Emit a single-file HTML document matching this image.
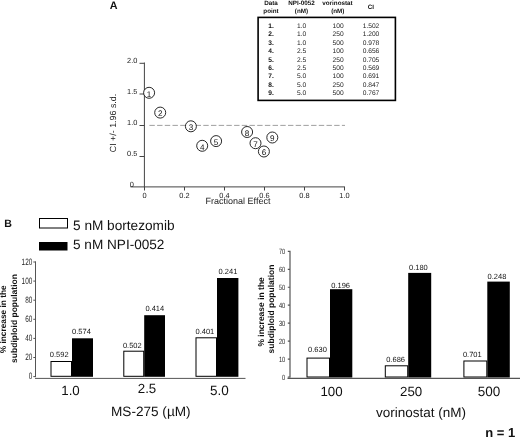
<!DOCTYPE html>
<html><head><meta charset="utf-8"><title>Figure</title>
<style>
html,body{margin:0;padding:0;background:#fff;}
svg{display:block;font-family:"Liberation Sans",sans-serif;filter:blur(0.35px);text-rendering:geometricPrecision;}
</style></head>
<body>
<svg width="520" height="438" viewBox="0 0 520 438">
<rect x="0" y="0" width="520" height="438" fill="#fff"/>
<text x="109.7" y="8.8" font-size="10.8" text-anchor="start" font-weight="bold" fill="#111">A</text>
<text x="271" y="5.2" font-size="6.3" text-anchor="middle" font-weight="bold" fill="#111">Data</text>
<text x="271" y="13" font-size="6.3" text-anchor="middle" font-weight="bold" fill="#111">point</text>
<text x="301.5" y="5.2" font-size="6.3" text-anchor="middle" font-weight="bold" fill="#111">NPI-0052</text>
<text x="301.5" y="13" font-size="6.3" text-anchor="middle" font-weight="bold" fill="#111">(nM)</text>
<text x="337.5" y="5.2" font-size="6.3" text-anchor="middle" font-weight="bold" fill="#111">vorinostat</text>
<text x="337.8" y="13" font-size="6.3" text-anchor="middle" font-weight="bold" fill="#111">(nM)</text>
<text x="370.8" y="9.1" font-size="6.3" text-anchor="middle" font-weight="bold" fill="#111">CI</text>
<rect x="258.1" y="17.4" width="137.3" height="83" fill="#fff" stroke="#000" stroke-width="1.6"/>
<text x="271" y="27.7" font-size="6.65" text-anchor="middle" font-weight="bold" fill="#111">1.</text>
<text x="301.5" y="27.7" font-size="6.65" text-anchor="middle" fill="#222">1.0</text>
<text x="338.1" y="27.7" font-size="6.65" text-anchor="middle" fill="#222">100</text>
<text x="371" y="27.7" font-size="6.65" text-anchor="middle" fill="#222">1.502</text>
<text x="271" y="36.16" font-size="6.65" text-anchor="middle" font-weight="bold" fill="#111">2.</text>
<text x="301.5" y="36.16" font-size="6.65" text-anchor="middle" fill="#222">1.0</text>
<text x="338.1" y="36.16" font-size="6.65" text-anchor="middle" fill="#222">250</text>
<text x="371" y="36.16" font-size="6.65" text-anchor="middle" fill="#222">1.200</text>
<text x="271" y="44.62" font-size="6.65" text-anchor="middle" font-weight="bold" fill="#111">3.</text>
<text x="301.5" y="44.62" font-size="6.65" text-anchor="middle" fill="#222">1.0</text>
<text x="338.1" y="44.62" font-size="6.65" text-anchor="middle" fill="#222">500</text>
<text x="371" y="44.62" font-size="6.65" text-anchor="middle" fill="#222">0.978</text>
<text x="271" y="53.08" font-size="6.65" text-anchor="middle" font-weight="bold" fill="#111">4.</text>
<text x="301.5" y="53.08" font-size="6.65" text-anchor="middle" fill="#222">2.5</text>
<text x="338.1" y="53.08" font-size="6.65" text-anchor="middle" fill="#222">100</text>
<text x="371" y="53.08" font-size="6.65" text-anchor="middle" fill="#222">0.656</text>
<text x="271" y="61.54" font-size="6.65" text-anchor="middle" font-weight="bold" fill="#111">5.</text>
<text x="301.5" y="61.54" font-size="6.65" text-anchor="middle" fill="#222">2.5</text>
<text x="338.1" y="61.54" font-size="6.65" text-anchor="middle" fill="#222">250</text>
<text x="371" y="61.54" font-size="6.65" text-anchor="middle" fill="#222">0.705</text>
<text x="271" y="70.0" font-size="6.65" text-anchor="middle" font-weight="bold" fill="#111">6.</text>
<text x="301.5" y="70.0" font-size="6.65" text-anchor="middle" fill="#222">2.5</text>
<text x="338.1" y="70.0" font-size="6.65" text-anchor="middle" fill="#222">500</text>
<text x="371" y="70.0" font-size="6.65" text-anchor="middle" fill="#222">0.569</text>
<text x="271" y="78.46" font-size="6.65" text-anchor="middle" font-weight="bold" fill="#111">7.</text>
<text x="301.5" y="78.46" font-size="6.65" text-anchor="middle" fill="#222">5.0</text>
<text x="338.1" y="78.46" font-size="6.65" text-anchor="middle" fill="#222">100</text>
<text x="371" y="78.46" font-size="6.65" text-anchor="middle" fill="#222">0.691</text>
<text x="271" y="86.92" font-size="6.65" text-anchor="middle" font-weight="bold" fill="#111">8.</text>
<text x="301.5" y="86.92" font-size="6.65" text-anchor="middle" fill="#222">5.0</text>
<text x="338.1" y="86.92" font-size="6.65" text-anchor="middle" fill="#222">250</text>
<text x="371" y="86.92" font-size="6.65" text-anchor="middle" fill="#222">0.847</text>
<text x="271" y="95.38000000000001" font-size="6.65" text-anchor="middle" font-weight="bold" fill="#111">9.</text>
<text x="301.5" y="95.38000000000001" font-size="6.65" text-anchor="middle" fill="#222">5.0</text>
<text x="338.1" y="95.38000000000001" font-size="6.65" text-anchor="middle" fill="#222">500</text>
<text x="371" y="95.38000000000001" font-size="6.65" text-anchor="middle" fill="#222">0.767</text>
<path d="M144.4 62.5V187.4M130.5 186.9H345M139.5 63.3H144.4M139.5 94H144.4M139.5 125.5H144.4M139.5 156.5H144.4M144.5 187V190.5M184.5 187V190.5M224.5 187V190.5M264.5 187V190.5M304.5 187V190.5M344.5 187V190.5" stroke="#444" stroke-width="1" fill="none"/>
<path d="M149.4 125.4H345" stroke="#888" stroke-width="0.8" stroke-dasharray="5.4 2.3" fill="none"/>
<text x="137.3" y="63.2" font-size="7.4" text-anchor="end" fill="#222">2.0</text>
<text x="137.3" y="93.7" font-size="7.4" text-anchor="end" fill="#222">1.5</text>
<text x="137.3" y="125.2" font-size="7.4" text-anchor="end" fill="#222">1.0</text>
<text x="137.3" y="156.2" font-size="7.4" text-anchor="end" fill="#222">0.5</text>
<text x="133.8" y="187" font-size="7.4" text-anchor="end" fill="#222">0</text>
<text x="144.5" y="197.6" font-size="7.4" text-anchor="middle" fill="#222">0</text>
<text x="184.5" y="197.6" font-size="7.4" text-anchor="middle" fill="#222">0.2</text>
<text x="224.5" y="197.6" font-size="7.4" text-anchor="middle" fill="#222">0.4</text>
<text x="264.5" y="197.6" font-size="7.4" text-anchor="middle" fill="#222">0.6</text>
<text x="304.5" y="197.6" font-size="7.4" text-anchor="middle" fill="#222">0.8</text>
<text x="344.5" y="197.6" font-size="7.4" text-anchor="middle" fill="#222">1.0</text>
<text x="238" y="204.3" font-size="9" text-anchor="middle" fill="#222">Fractional Effect</text>
<text transform="translate(116,123) rotate(-90)" font-size="8.9" text-anchor="middle" fill="#222">CI +/- 1.96 s.d.</text>
<circle cx="149.1" cy="92.8" r="5.5" fill="#fff" stroke="#111" stroke-width="0.9"/>
<text x="149.1" y="96.5" font-size="8.1" text-anchor="middle" fill="#111">1</text>
<circle cx="160.2" cy="112.6" r="5.5" fill="#fff" stroke="#111" stroke-width="0.9"/>
<text x="160.2" y="116.3" font-size="8.1" text-anchor="middle" fill="#111">2</text>
<circle cx="190.9" cy="126.3" r="5.5" fill="#fff" stroke="#111" stroke-width="0.9"/>
<text x="190.9" y="130.0" font-size="8.1" text-anchor="middle" fill="#111">3</text>
<circle cx="202.2" cy="145.8" r="5.5" fill="#fff" stroke="#111" stroke-width="0.9"/>
<text x="202.2" y="149.5" font-size="8.1" text-anchor="middle" fill="#111">4</text>
<circle cx="216.1" cy="141.1" r="5.5" fill="#fff" stroke="#111" stroke-width="0.9"/>
<text x="216.1" y="144.79999999999998" font-size="8.1" text-anchor="middle" fill="#111">5</text>
<circle cx="263.9" cy="151.5" r="5.5" fill="#fff" stroke="#111" stroke-width="0.9"/>
<text x="263.9" y="155.2" font-size="8.1" text-anchor="middle" fill="#111">6</text>
<circle cx="255.5" cy="143.2" r="5.5" fill="#fff" stroke="#111" stroke-width="0.9"/>
<text x="255.5" y="146.89999999999998" font-size="8.1" text-anchor="middle" fill="#111">7</text>
<circle cx="247.1" cy="132" r="5.5" fill="#fff" stroke="#111" stroke-width="0.9"/>
<text x="247.1" y="135.7" font-size="8.1" text-anchor="middle" fill="#111">8</text>
<circle cx="272.3" cy="137.5" r="5.5" fill="#fff" stroke="#111" stroke-width="0.9"/>
<text x="272.3" y="141.2" font-size="8.1" text-anchor="middle" fill="#111">9</text>
<text x="4.3" y="226.6" font-size="10.6" text-anchor="start" font-weight="bold" fill="#111">B</text>
<rect x="39.5" y="218.5" width="28" height="9.5" fill="#fff" stroke="#000" stroke-width="1"/>
<rect x="39" y="242" width="28.5" height="8.5" fill="#000"/>
<text x="73" y="230.1" font-size="13.65" text-anchor="start" fill="#111">5 nM bortezomib</text>
<text x="73" y="248.8" font-size="13.6" text-anchor="start" fill="#111">5 nM NPI-0052</text>
<text transform="translate(6.2,319.3) rotate(-90)" font-size="8.3" font-weight="bold" text-anchor="middle" fill="#111">% increase in the</text>
<text transform="translate(16.5,318.5) rotate(-90)" font-size="8.5" font-weight="bold" text-anchor="middle" fill="#111">subdiploid population</text>
<text transform="translate(32.3,379.1) scale(0.7,1)" font-size="9.2" text-anchor="end" fill="#222">0</text>
<text transform="translate(32.3,360.0) scale(0.7,1)" font-size="9.2" text-anchor="end" fill="#222">20</text>
<text transform="translate(32.3,340.90000000000003) scale(0.7,1)" font-size="9.2" text-anchor="end" fill="#222">40</text>
<text transform="translate(32.3,321.8) scale(0.7,1)" font-size="9.2" text-anchor="end" fill="#222">60</text>
<text transform="translate(32.3,302.70000000000005) scale(0.7,1)" font-size="9.2" text-anchor="end" fill="#222">80</text>
<text transform="translate(32.3,283.6) scale(0.7,1)" font-size="9.2" text-anchor="end" fill="#222">100</text>
<text transform="translate(32.3,264.5) scale(0.7,1)" font-size="9.2" text-anchor="end" fill="#222">120</text>
<path d="M35.5 261.5V377.1M33.3 376.60H36M33.3 357.50H36M33.3 338.40H36M33.3 319.30H36M33.3 300.20H36M33.3 281.10H36M33.3 262.00H36M35 378.4H245.5" stroke="#555" stroke-width="1" fill="none"/>
<rect x="51.0" y="361.5" width="20.5" height="14.800000000000011" fill="#fff" stroke="#000" stroke-width="1"/>
<rect x="72" y="338.3" width="21" height="38.5" fill="#000"/>
<text x="59.2" y="357" font-size="7.5" text-anchor="middle" fill="#111">0.592</text>
<text x="81.5" y="334" font-size="7.5" text-anchor="middle" fill="#111">0.574</text>
<rect x="123.8" y="351.2" width="19.89999999999999" height="25.100000000000023" fill="#fff" stroke="#000" stroke-width="1"/>
<rect x="144.2" y="315.2" width="20.80000000000001" height="61.60000000000002" fill="#000"/>
<text x="132.3" y="347.5" font-size="7.5" text-anchor="middle" fill="#111">0.502</text>
<text x="154.8" y="311" font-size="7.5" text-anchor="middle" fill="#111">0.414</text>
<rect x="196.0" y="337.8" width="20.5" height="38.5" fill="#fff" stroke="#000" stroke-width="1"/>
<rect x="217" y="278" width="21.400000000000006" height="98.80000000000001" fill="#000"/>
<text x="204.9" y="334.1" font-size="7.5" text-anchor="middle" fill="#111">0.401</text>
<text x="228" y="274.4" font-size="7.5" text-anchor="middle" fill="#111">0.241</text>
<text x="70.5" y="395.4" font-size="13.3" text-anchor="middle" fill="#111">1.0</text>
<text x="147" y="393.3" font-size="13.3" text-anchor="middle" fill="#111">2.5</text>
<text x="219.3" y="394.7" font-size="13.5" text-anchor="middle" fill="#111">5.0</text>
<text x="150.8" y="416.4" font-size="13.6" text-anchor="middle" fill="#111">MS-275 (µM)</text>
<text transform="translate(264,311.9) rotate(-90)" font-size="8.5" font-weight="bold" text-anchor="middle" fill="#111">% increase in the</text>
<text transform="translate(274.1,309) rotate(-90)" font-size="8.5" font-weight="bold" text-anchor="middle" fill="#111">subdiploid population</text>
<text transform="translate(285.2,379.6) scale(0.74,1)" font-size="7.6" text-anchor="end" fill="#222">0</text>
<text transform="translate(285.2,361.65000000000003) scale(0.74,1)" font-size="7.6" text-anchor="end" fill="#222">10</text>
<text transform="translate(285.2,343.70000000000005) scale(0.74,1)" font-size="7.6" text-anchor="end" fill="#222">20</text>
<text transform="translate(285.2,325.75) scale(0.74,1)" font-size="7.6" text-anchor="end" fill="#222">30</text>
<text transform="translate(285.2,307.8) scale(0.74,1)" font-size="7.6" text-anchor="end" fill="#222">40</text>
<text transform="translate(285.2,289.85) scale(0.74,1)" font-size="7.6" text-anchor="end" fill="#222">50</text>
<text transform="translate(285.2,271.90000000000003) scale(0.74,1)" font-size="7.6" text-anchor="end" fill="#222">60</text>
<text transform="translate(285.2,253.95000000000002) scale(0.74,1)" font-size="7.6" text-anchor="end" fill="#222">70</text>
<path d="M290 251V377.5M287.8 377.00H290.6M287.8 359.05H290.6M287.8 341.10H290.6M287.8 323.15H290.6M287.8 305.20H290.6M287.8 287.25H290.6M287.8 269.30H290.6M287.8 251.35H290.6M287.5 378.4H520" stroke="#555" stroke-width="1.2" fill="none"/>
<rect x="307.0" y="358.1" width="22.5" height="18.899999999999977" fill="#fff" stroke="#000" stroke-width="1"/>
<rect x="330" y="289.2" width="22.30000000000001" height="88.30000000000001" fill="#000"/>
<text x="317.5" y="352.4" font-size="7.5" text-anchor="middle" fill="#111">0.630</text>
<text x="340.6" y="287.6" font-size="7.5" text-anchor="middle" fill="#111">0.196</text>
<rect x="385.3" y="365.8" width="22.399999999999977" height="11.199999999999989" fill="#fff" stroke="#000" stroke-width="1"/>
<rect x="408.2" y="272.9" width="23.0" height="104.60000000000002" fill="#000"/>
<text x="395.6" y="361.9" font-size="7.5" text-anchor="middle" fill="#111">0.686</text>
<text x="418.4" y="270" font-size="7.5" text-anchor="middle" fill="#111">0.180</text>
<rect x="463.9" y="361.0" width="22.900000000000034" height="16.0" fill="#fff" stroke="#000" stroke-width="1"/>
<rect x="487.3" y="281.6" width="22.5" height="95.89999999999998" fill="#000"/>
<text x="472.3" y="356.7" font-size="7.5" text-anchor="middle" fill="#111">0.701</text>
<text x="497" y="279" font-size="7.5" text-anchor="middle" fill="#111">0.248</text>
<text x="331.5" y="396.3" font-size="13.3" text-anchor="middle" fill="#111">100</text>
<text x="411.1" y="396.3" font-size="13.3" text-anchor="middle" fill="#111">250</text>
<text x="489.1" y="396.3" font-size="13.5" text-anchor="middle" fill="#111">500</text>
<text x="421" y="416.5" font-size="13.5" text-anchor="middle" fill="#111">vorinostat (nM)</text>
<text x="500.3" y="437.2" font-size="13" text-anchor="middle" font-weight="bold" fill="#111">n = 1</text>
</svg>
</body></html>
